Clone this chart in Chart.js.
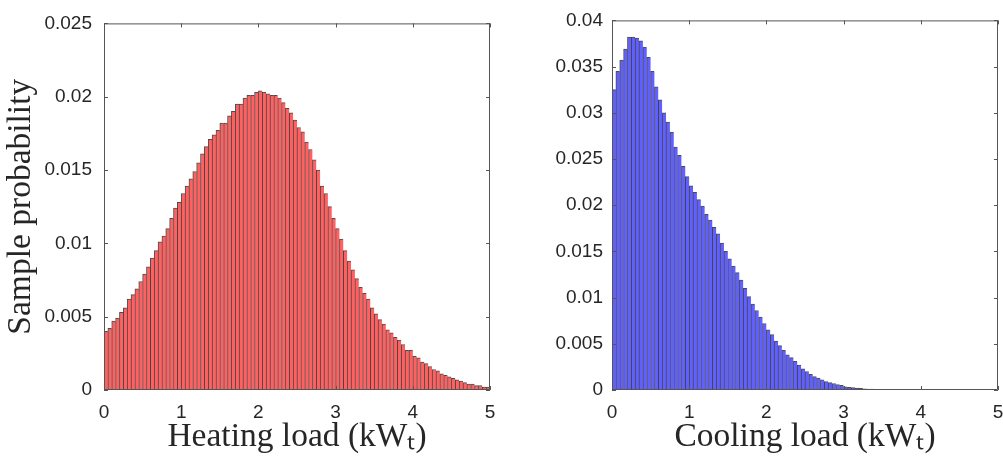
<!DOCTYPE html>
<html>
<head>
<meta charset="utf-8">
<script src="https://cdn.jsdelivr.net/npm/chart.js@4"></script>
<style>
  html, body { margin: 0; padding: 0; background: #fff; }
  body { width: 1003px; height: 459px; position: relative; overflow: hidden; }
  canvas { position: absolute; top: 0; }
</style>
</head>
<body>
<canvas id="heat" width="500" height="459" style="left:0px"></canvas>
<canvas id="cool" width="500" height="459" style="left:503px"></canvas>
<script>
// histogram bins: 100 bins of 0.05 kW from 0 to 5
const binWidth = 0.05;
const xTicks = [0, 1, 2, 3, 4, 5];

// sample probability per bin, heating load
const heating = [
    0.0040, 0.0042, 0.0047, 0.0049, 0.0053, 0.0056, 0.0062, 0.0065, 0.0069, 0.0074,
    0.0079, 0.0084, 0.0090, 0.0095, 0.0101, 0.0105, 0.0110, 0.0117, 0.0124, 0.0128,
    0.0134, 0.0139, 0.0144, 0.0149, 0.0155, 0.0161, 0.0166, 0.0171, 0.0174, 0.0177,
    0.0182, 0.0182, 0.0187, 0.0190, 0.0195, 0.0195, 0.0199, 0.0201, 0.0201, 0.0203,
    0.0204, 0.0203, 0.0202, 0.0201, 0.0201, 0.0199, 0.0196, 0.0192, 0.0189, 0.0184,
    0.0179, 0.0176, 0.0169, 0.0164, 0.0157, 0.0150, 0.0139, 0.0134, 0.0125, 0.0117,
    0.0110, 0.0103, 0.0095, 0.0088, 0.0082, 0.0076, 0.0070, 0.0066, 0.0062, 0.0056,
    0.0052, 0.0048, 0.0045, 0.0041, 0.0039, 0.0036, 0.0034, 0.0031, 0.0027, 0.0027,
    0.0023, 0.0022, 0.0019, 0.0018, 0.0016, 0.0014, 0.0013, 0.0011, 0.0010, 0.0009,
    0.0008, 0.0007, 0.0006, 0.0005, 0.0004, 0.0004, 0.0003, 0.0003, 0.0002, 0.0002
];

// sample probability per bin, cooling load
const cooling = [
    0.0325, 0.0345, 0.0357, 0.0369, 0.0382, 0.0382, 0.0381, 0.0378, 0.0371, 0.0360,
    0.0345, 0.0328, 0.0314, 0.0300, 0.0290, 0.0279, 0.0263, 0.0254, 0.0242, 0.0231,
    0.0221, 0.0214, 0.0206, 0.0199, 0.0190, 0.0184, 0.0176, 0.0169, 0.0159, 0.0150,
    0.0142, 0.0134, 0.0127, 0.0119, 0.0110, 0.0101, 0.0093, 0.0086, 0.0079, 0.0072,
    0.0065, 0.0060, 0.0053, 0.0048, 0.0043, 0.0038, 0.0035, 0.0031, 0.0027, 0.0023,
    0.0020, 0.0017, 0.00145, 0.0013, 0.0011, 0.0009, 0.0008, 0.0007, 0.0006, 0.0005,
    0.00035, 0.0003, 0.00025, 0.0002, 0.00018, 0.00014, 0.00011, 0.00009, 0.00007, 0.00005,
    0.00004, 0.00003, 0.00002, 0.00002, 0.00002, 0.00001, 0.00001, 0.00001, 0.00001, 0.00001,
    0, 0, 0, 0, 0, 0, 0, 0, 0, 0,
    0, 0, 0, 0, 0, 0, 0, 0, 0, 0
];

const tickFont = { family: "'Liberation Sans', Arial, sans-serif", size: 19 };
const titleFont = { family: "'Liberation Serif', 'Times New Roman', serif", size: 33.5 };
const textColor = "#262626";

// matlab style box with inward ticks on all four sides
const boxPlugin = {
    id: "box",
    afterDatasetsDraw(chart) {
        const { ctx, chartArea: a, scales } = chart;
        const len = 4;
        ctx.save();
        ctx.strokeStyle = "#555";
        ctx.lineWidth = 1;
        ctx.beginPath();
        ctx.rect(a.left + 0.5, a.top + 0.5, a.right - a.left - 1, a.bottom - a.top - 1);
        scales.x.ticks.forEach(t => {
            const px = Math.round(scales.x.getPixelForValue(t.value)) + 0.5;
            ctx.moveTo(px, a.bottom); ctx.lineTo(px, a.bottom - len);
            ctx.moveTo(px, a.top); ctx.lineTo(px, a.top + len);
        });
        scales.y.ticks.forEach(t => {
            const py = Math.round(scales.y.getPixelForValue(t.value)) + 0.5;
            ctx.moveTo(a.left, py); ctx.lineTo(a.left + len, py);
            ctx.moveTo(a.right, py); ctx.lineTo(a.right - len, py);
        });
        ctx.stroke();
        ctx.restore();
    }
};

function makeHist(id, values, fill, yMax, xTitle, yTitle, yWidth, padRight, yTickPad) {
    const points = values.map((v, i) => ({ x: (i + 0.5) * binWidth, y: v }));
    return new Chart(document.getElementById(id), {
        type: "bar",
        data: {
            datasets: [{
                data: points,
                backgroundColor: fill,
                borderColor: "rgba(0,0,0,0.7)",
                borderWidth: { left: 1, top: 1, right: 0, bottom: 0 },
                borderSkipped: false,
                categoryPercentage: 1,
                barPercentage: 1
            }]
        },
        options: {
            responsive: false,
            animation: false,
            layout: { padding: { left: 0, right: padRight, top: 12, bottom: 0 } },
            plugins: { legend: { display: false }, tooltip: { enabled: false } },
            scales: {
                x: {
                    type: "linear",
                    min: 0, max: 5,
                    offset: false,
                    afterBuildTicks: s => { s.ticks = xTicks.map(v => ({ value: v })); },
                    grid: { display: false, drawTicks: false },
                    border: { display: false },
                    ticks: { font: tickFont, color: textColor, padding: 11, maxRotation: 0,
                             callback: v => String(v) },
                    title: { display: true, text: xTitle, font: titleFont, color: textColor,
                             padding: { top: 0, bottom: 2 } },
                    // fixed height, and let layout padding decide the side margins
                    afterFit: s => { s.height = 69; s.paddingLeft = 0; s.paddingRight = 0; }
                },
                y: {
                    min: 0, max: yMax,
                    ticks: { stepSize: 0.005, font: tickFont, color: textColor, padding: yTickPad,
                             callback: v => String(+v.toFixed(3)) },
                    grid: { display: false, drawTicks: false },
                    border: { display: false },
                    title: { display: !!yTitle, text: yTitle, font: titleFont, color: textColor,
                             padding: { top: 1, bottom: 0 } },
                    afterFit: s => { s.width = yWidth; }
                }
            }
        },
        plugins: [boxPlugin]
    });
}

makeHist("heat", heating, "rgb(255,96,96)", 0.025, "Heating load (kWₜ)", "Sample probability", 104, 10, 12);
makeHist("cool", cooling, "rgb(96,96,255)", 0.04, "Cooling load (kWₜ)", "", 109, 5, 9);
</script>
</body>
</html>
